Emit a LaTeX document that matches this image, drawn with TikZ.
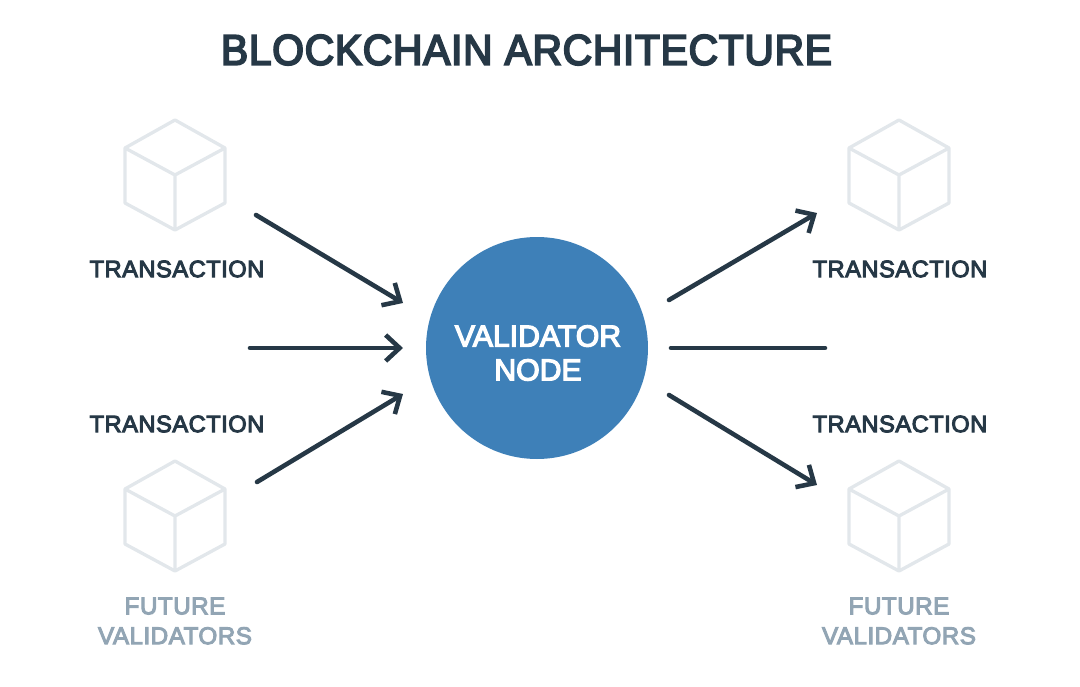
\documentclass[tikz,border=0pt]{standalone}
\usepackage{fontspec}
\usepackage{xcolor}
\setmainfont{Liberation Sans}
\newfontfamily\labelfont[LetterSpace=2.0,FakeBold=4.2]{Liberation Sans}
\newfontfamily\hubfont[LetterSpace=0.0,FakeBold=4.2]{Liberation Sans}
\newfontfamily\titlefont[LetterSpace=1.5,FakeStretch=0.95,FakeBold=4.2]{Liberation Sans}
\usetikzlibrary{arrows.meta,positioning}
\definecolor{chainink}{RGB}{38,56,70}
\definecolor{chainblue}{RGB}{62,128,184}
\definecolor{chaincube}{RGB}{226,231,235}
\definecolor{chainfade}{RGB}{146,165,180}
\tikzset{
  hub/.style={circle, fill=chainblue, inner sep=0pt, minimum size=222*0.02cm},
  hubtxt/.style={
    text=white, align=center, inner sep=0pt,
    font=\hubfont\fontsize{17.2}{19.3}\selectfont
  },
  lbl/.style={text=chainink, font=\labelfont\fontsize{13.5}{16}\selectfont, inner sep=0pt},
  fade/.style={text=chainfade, align=center, inner sep=0pt,
    font=\labelfont\fontsize{13.8}{17}\selectfont},
  ttl/.style={text=chainink, inner sep=0pt, font=\titlefont\fontsize{24.5}{30}\selectfont},
  arr/.style={-{Straight Barb[length=2.8mm,width=5.2mm,line width=2.6pt]}, draw=chainink, line width=2.6pt, line cap=round},
  lin/.style={draw=chainink, line width=2.6pt, line cap=round},
  cubeicon/.pic={
    \draw[chaincube, line width=1.9pt, line join=round]
      (0,-55) -- (50,-27) -- (50,28) -- (0,55) -- (-50,28) -- (-50,-27) -- cycle
      (-50,-27) -- (0,0) -- (50,-27) (0,0) -- (0,55);
  }
}
\begin{document}
\begin{tikzpicture}[x=0.02cm,y=-0.02cm]
  \useasboundingbox (0,0) rectangle (1080,687);
  \node[ttl] (title) at (526.5,50) {BLOCKCHAIN ARCHITECTURE};
  \node[hub] (hub) at (537,348) {};
  \node[hubtxt] (hubtext) at (538,353) {VALIDATOR\\NODE};
  % cubes, left and right
  \pic at (175,175) {cubeicon};
  \pic at (899,175) {cubeicon};
  \pic at (175,516) {cubeicon};
  \pic at (899,516) {cubeicon};
  \node[lbl] (txa) at (177,269) {TRANSACTION};
  \node[lbl] (txb) at (177,424) {TRANSACTION};
  \node[lbl] (txc) at (900,269) {TRANSACTION};
  \node[lbl] (txd) at (900,424) {TRANSACTION};
  \node[fade] (futa) at (175,621) {FUTURE\\VALIDATORS};
  \node[fade] (futb) at (899,621) {FUTURE\\VALIDATORS};
  % free ends of the connectors
  \coordinate (ina) at (256,215);
  \coordinate (inb) at (250,348);
  \coordinate (inc) at (257,482);
  \coordinate (ena) at (403,303);
  \coordinate (enb) at (403,348);
  \coordinate (enc) at (403,394);
  \coordinate (exa) at (669,300);
  \coordinate (exb) at (671,348);
  \coordinate (exc) at (669,395);
  \coordinate (outa) at (817,213);
  \coordinate (outb) at (825,348);
  \coordinate (outc) at (817,485);
  \draw[arr] (ina) -- (ena);
  \draw[arr] (inb) -- (enb);
  \draw[arr] (inc) -- (enc);
  \draw[arr] (exa) -- (outa);
  \draw[lin] (exb) -- (outb);
  \draw[arr] (exc) -- (outc);
\end{tikzpicture}
\end{document}
